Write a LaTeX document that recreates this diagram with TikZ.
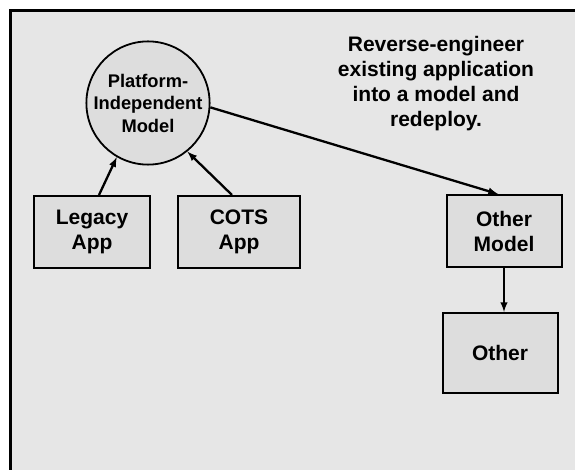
\documentclass[tikz,border=0pt]{standalone}
\usepackage{fontspec}
\setmainfont{Liberation Sans}
\usepackage{tikz}
\usetikzlibrary{positioning,shapes.geometric,arrows}

\definecolor{panelgray}{HTML}{E6E6E6}
\definecolor{boxgray}{HTML}{DDDDDD}

\begin{document}
\begin{tikzpicture}[x=1pt,y=-1pt,
                    appbox/.style={rectangle,draw=black,line width=2pt,fill=boxgray,align=center,
                                   font=\fontsize{21}{25}\selectfont\bfseries,inner sep=0pt},
                    pim/.style={circle,draw=black,line width=1.8pt,fill=boxgray,align=center,minimum size=120,
                                inner sep=0pt,font=\fontsize{18.3}{22.5}\selectfont\bfseries},
                    flow/.style={-latex,line width=2.3pt}
                ]
                    \useasboundingbox (0,0) rectangle (575,470);
                    \filldraw[fill=panelgray,draw=black,line width=3.5pt] (10.5,10.5) rectangle (620,520);
                    \node[pim] (model) at (148,103) {Platform-\\Independent\\Model};
                    \node[appbox,minimum width=116,minimum height=72] (legacy) at (92,232) {Legacy\\App};
                    \node[appbox,minimum width=122,minimum height=72] (cots) at (239,232) {COTS\\App};
                    \node[appbox,minimum width=115,minimum height=72] (othermodel) at (504,231) {Other\\Model};
                    \node[appbox,minimum width=115,minimum height=80] (other) at (500,353) {Other};
                    \node[align=center,font=\fontsize{21}{25}\selectfont\bfseries] (note) at (436,84)
                        {Reverse-engineer\\existing application\\into a model and\\redeploy.};
                    \draw[flow] ([xshift=7pt]legacy.north) -- (model.240);
                    \draw[flow] ([xshift=-7pt]cots.north) -- (model.309);
                    \draw[flow] (model.-4) -- ([xshift=-6pt]othermodel.north);
                    \draw[flow] (othermodel.south) -- (othermodel.south |- other.north);
                \end{tikzpicture}
\end{document}
